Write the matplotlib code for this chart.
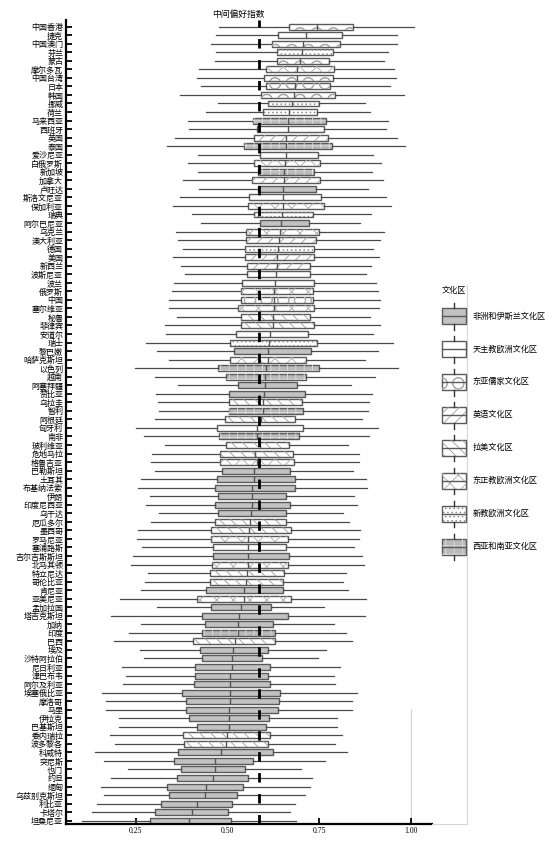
import matplotlib
matplotlib.use("Agg")
import matplotlib.pyplot as plt
import matplotlib.patches as mpatches
from matplotlib.legend_handler import HandlerBase
from matplotlib.lines import Line2D

plt.rcParams['font.family'] = ['Noto Sans CJK SC', 'DejaVu Sans']
plt.rcParams['hatch.linewidth'] = 0.6
plt.rcParams['lines.scale_dashes'] = False

# 国家/地区，按中位数从高到低
countries = [
    '中国香港', '捷克', '中国澳门', '芬兰', '蒙古', '摩尔多瓦', '中国台湾', '日本', '韩国', '挪威',
    '荷兰', '马来西亚', '西班牙', '英国', '泰国', '爱沙尼亚', '白俄罗斯', '新加坡', '加拿大', '卢旺达',
    '斯洛文尼亚', '保加利亚', '瑞典', '阿尔巴尼亚', '乌克兰', '澳大利亚', '德国', '美国', '新西兰', '波斯尼亚',
    '波兰', '俄罗斯', '中国', '塞尔维亚', '秘鲁', '菲律宾', '安道尔', '瑞士', '黎巴嫩', '哈萨克斯坦',
    '以色列', '越南', '阿塞拜疆', '赞比亚', '乌拉圭', '智利', '阿根廷', '匈牙利', '南非', '玻利维亚',
    '危地马拉', '格鲁吉亚', '巴勒斯坦', '土耳其', '布基纳法索', '伊朗', '印度尼西亚', '乌干达', '厄瓜多尔', '墨西哥',
    '罗马尼亚', '塞浦路斯', '吉尔吉斯斯坦', '北马其顿', '特立尼达', '哥伦比亚', '肯尼亚', '亚美尼亚', '孟加拉国', '塔吉克斯坦',
    '加纳', '印度', '巴西', '埃及', '沙特阿拉伯', '尼日利亚', '津巴布韦', '阿尔及利亚', '埃塞俄比亚', '摩洛哥',
    '马里', '伊拉克', '巴基斯坦', '委内瑞拉', '波多黎各', '科威特', '突尼斯', '也门', '约旦', '缅甸',
    '乌兹别克斯坦', '利比亚', '卡塔尔', '坦桑尼亚',
]

zones = [
    'EA', 'CE', 'EA', 'PE', 'EA', 'OE', 'EA', 'EA', 'EA', 'PE',
    'PE', 'WS', 'CE', 'EN', 'WS', 'CE', 'OE', 'WS', 'EN', 'AI',
    'CE', 'OE', 'PE', 'AI', 'OE', 'EN', 'PE', 'EN', 'EN', 'CE',
    'CE', 'OE', 'EA', 'OE', 'LA', 'LA', 'CE', 'PE', 'AI', 'OE',
    'WS', 'WS', 'AI', 'AI', 'LA', 'WS', 'LA', 'CE', 'WS', 'LA',
    'LA', 'OE', 'AI', 'AI', 'AI', 'AI', 'AI', 'AI', 'LA', 'LA',
    'OE', 'CE', 'AI', 'OE', 'LA', 'LA', 'AI', 'OE', 'AI', 'AI',
    'AI', 'WS', 'LA', 'AI', 'AI', 'AI', 'AI', 'AI', 'AI', 'AI',
    'AI', 'AI', 'AI', 'LA', 'LA', 'AI', 'AI', 'AI', 'AI', 'AI',
    'AI', 'AI', 'AI', 'AI',
]

whis_lo = [
    0.477, 0.469, 0.455, 0.469, 0.467, 0.423, 0.417, 0.428, 0.370, 0.474,
    0.441, 0.392, 0.394, 0.357, 0.335, 0.420, 0.393, 0.418, 0.379, 0.421,
    0.370, 0.351, 0.402, 0.428, 0.359, 0.365, 0.379, 0.351, 0.374, 0.385,
    0.354, 0.349, 0.339, 0.339, 0.362, 0.330, 0.332, 0.277, 0.307, 0.339,
    0.247, 0.302, 0.366, 0.305, 0.309, 0.312, 0.303, 0.250, 0.272, 0.330,
    0.293, 0.291, 0.303, 0.264, 0.256, 0.288, 0.276, 0.312, 0.291, 0.256,
    0.254, 0.266, 0.241, 0.236, 0.282, 0.274, 0.264, 0.206, 0.308, 0.182,
    0.264, 0.231, 0.190, 0.262, 0.273, 0.212, 0.223, 0.214, 0.157, 0.168,
    0.168, 0.204, 0.204, 0.179, 0.193, 0.138, 0.163, 0.229, 0.183, 0.154,
    0.163, 0.143, 0.131, 0.104,
]
q1 = [
    0.669, 0.639, 0.620, 0.634, 0.634, 0.604, 0.600, 0.605, 0.591, 0.611,
    0.597, 0.570, 0.579, 0.571, 0.546, 0.589, 0.572, 0.584, 0.566, 0.584,
    0.559, 0.557, 0.571, 0.588, 0.550, 0.550, 0.547, 0.547, 0.552, 0.554,
    0.540, 0.538, 0.536, 0.528, 0.536, 0.536, 0.522, 0.508, 0.518, 0.507,
    0.475, 0.495, 0.528, 0.503, 0.504, 0.503, 0.493, 0.472, 0.476, 0.495,
    0.478, 0.480, 0.486, 0.471, 0.467, 0.475, 0.467, 0.475, 0.467, 0.454,
    0.456, 0.459, 0.461, 0.458, 0.453, 0.453, 0.440, 0.416, 0.456, 0.431,
    0.438, 0.431, 0.405, 0.424, 0.429, 0.410, 0.411, 0.408, 0.375, 0.386,
    0.386, 0.396, 0.417, 0.379, 0.382, 0.365, 0.353, 0.372, 0.361, 0.336,
    0.341, 0.317, 0.303, 0.287,
]
med = [
    0.743, 0.714, 0.707, 0.703, 0.697, 0.690, 0.690, 0.684, 0.680, 0.677,
    0.667, 0.665, 0.665, 0.659, 0.659, 0.659, 0.658, 0.655, 0.653, 0.651,
    0.652, 0.650, 0.648, 0.647, 0.644, 0.641, 0.639, 0.635, 0.635, 0.633,
    0.630, 0.628, 0.628, 0.628, 0.625, 0.625, 0.615, 0.614, 0.610, 0.609,
    0.605, 0.602, 0.603, 0.600, 0.598, 0.598, 0.590, 0.579, 0.581, 0.588,
    0.576, 0.579, 0.572, 0.572, 0.568, 0.568, 0.566, 0.564, 0.560, 0.559,
    0.557, 0.555, 0.555, 0.555, 0.554, 0.549, 0.546, 0.544, 0.537, 0.530,
    0.528, 0.528, 0.520, 0.516, 0.511, 0.511, 0.507, 0.507, 0.507, 0.507,
    0.505, 0.503, 0.503, 0.498, 0.495, 0.481, 0.466, 0.466, 0.459, 0.440,
    0.438, 0.416, 0.402, 0.396,
]
q3 = [
    0.843, 0.813, 0.807, 0.789, 0.778, 0.791, 0.789, 0.780, 0.794, 0.750,
    0.745, 0.770, 0.762, 0.775, 0.786, 0.746, 0.753, 0.736, 0.753, 0.742,
    0.756, 0.764, 0.733, 0.723, 0.750, 0.742, 0.736, 0.736, 0.726, 0.724,
    0.737, 0.732, 0.734, 0.736, 0.725, 0.736, 0.720, 0.745, 0.729, 0.715,
    0.750, 0.715, 0.690, 0.710, 0.702, 0.707, 0.683, 0.707, 0.694, 0.669,
    0.678, 0.681, 0.671, 0.683, 0.685, 0.659, 0.671, 0.660, 0.660, 0.674,
    0.665, 0.659, 0.669, 0.665, 0.654, 0.650, 0.651, 0.674, 0.618, 0.665,
    0.623, 0.630, 0.630, 0.609, 0.595, 0.616, 0.609, 0.616, 0.643, 0.641,
    0.637, 0.614, 0.604, 0.616, 0.609, 0.623, 0.570, 0.548, 0.555, 0.542,
    0.527, 0.513, 0.500, 0.510,
]
whis_hi = [
    1.010, 0.962, 0.962, 0.939, 0.926, 0.955, 0.959, 0.944, 0.982, 0.875,
    0.889, 0.937, 0.932, 0.962, 0.983, 0.898, 0.918, 0.893, 0.923, 0.883,
    0.932, 0.946, 0.892, 0.862, 0.928, 0.916, 0.896, 0.914, 0.892, 0.878,
    0.905, 0.910, 0.916, 0.914, 0.889, 0.916, 0.896, 0.951, 0.910, 0.875,
    0.965, 0.903, 0.836, 0.893, 0.886, 0.884, 0.866, 0.910, 0.887, 0.828,
    0.859, 0.859, 0.842, 0.878, 0.880, 0.845, 0.853, 0.816, 0.831, 0.862,
    0.860, 0.845, 0.866, 0.873, 0.822, 0.816, 0.828, 0.877, 0.764, 0.875,
    0.790, 0.822, 0.841, 0.768, 0.747, 0.806, 0.790, 0.794, 0.853, 0.841,
    0.841, 0.800, 0.800, 0.811, 0.793, 0.825, 0.766, 0.700, 0.730, 0.725,
    0.712, 0.685, 0.670, 0.686,
]

ref_value = 0.585
x_ticks = [0.25, 0.50, 0.75, 1.00]

zone_keys = ['AI', 'CE', 'EA', 'EN', 'LA', 'OE', 'PE', 'WS']
zone_labels = ['非洲和伊斯兰文化区', '天主教欧洲文化区', '东亚儒家文化区', '英语文化区',
               '拉美文化区', '东正教欧洲文化区', '新教欧洲文化区', '西亚和南亚文化区']

# 样式
face = {'AI': '#c2c2c2', 'CE': 'white', 'EA': 'white', 'EN': 'white',
        'LA': 'white', 'OE': 'white', 'PE': 'white', 'WS': '#b9b9b9'}
hatch = {'AI': None, 'CE': None, 'EA': 'O', 'EN': '///', 'LA': '\\\\\\',
         'OE': 'xx', 'PE': '....', 'WS': '++'}
hatch_col = {'EA': '#a8a8a8', 'EN': '#9a9a9a', 'LA': '#9a9a9a', 'OE': '#a8a8a8',
             'PE': '#8c8c8c', 'WS': '#dcdcdc'}
edge_col = '#5a5a5a'


class BoxHandler(HandlerBase):
    # 图例里画一个竖着的小箱线图（单位：点）
    def create_artists(self, legend, orig_handle, xdescent, ydescent,
                       width, height, fontsize, trans):
        x0 = -xdescent
        cy = -ydescent + height / 2
        box_half = 5.8
        whis_half = 9.6
        cx = x0 + width / 2
        arts = []
        r = mpatches.Rectangle((x0, cy - box_half), width, 2 * box_half,
                               facecolor=orig_handle.get_facecolor(),
                               edgecolor=edge_col, lw=1.0, transform=trans)
        arts.append(r)
        if orig_handle.get_hatch():
            h = mpatches.Rectangle((x0, cy - box_half), width, 2 * box_half, facecolor='none',
                                   edgecolor=orig_handle.get_edgecolor(), lw=0,
                                   hatch=orig_handle.get_hatch(), transform=trans)
            arts.append(h)
        arts.append(Line2D([x0, x0 + width], [cy, cy], color=edge_col, lw=1.0, transform=trans))
        arts.append(Line2D([cx, cx], [cy + box_half, cy + whis_half], color='#333333', lw=1.0, transform=trans))
        arts.append(Line2D([cx, cx], [cy - whis_half, cy - box_half], color='#333333', lw=1.0, transform=trans))
        return arts


fig = plt.figure(figsize=(5.6, 8.44), dpi=100)
ax = fig.add_axes([66 / 560, 1 - 824 / 844, (432 - 66) / 560, (824 - 20) / 844])

stats = []
for i in range(len(countries)):
    stats.append({'whislo': whis_lo[i], 'q1': q1[i], 'med': med[i],
                  'q3': q3[i], 'whishi': whis_hi[i], 'fliers': []})

pos = list(range(len(countries)))
bp = ax.bxp(stats, positions=pos, orientation='horizontal', widths=0.7,
            patch_artist=True, showcaps=False, showfliers=False,
            boxprops=dict(edgecolor=edge_col, linewidth=1.0),
            medianprops=dict(color='#555555', linewidth=1.0),
            whiskerprops=dict(color='#4a4a4a', linewidth=0.9))

for box, z in zip(bp['boxes'], zones):
    box.set_facecolor(face[z])
    if hatch[z]:
        ov = mpatches.PathPatch(box.get_path(), transform=box.get_transform(),
                                facecolor='none', edgecolor=hatch_col[z], lw=0,
                                hatch=hatch[z], zorder=2.05)
        ax.add_patch(ov)

ax.axvline(ref_value, color='black', lw=2.0, linestyle=(0, (6.8, 8.3)), zorder=5)

ylim_bottom = 93.39
ax.set_ylim(ylim_bottom, -0.78)
ax.set_xlim(0.059, 1.058)
ax.vlines(1.0, 79.9, ylim_bottom, color='#cfcfcf', lw=0.8, zorder=1)

ax.set_yticks(pos)
ax.set_yticklabels(countries, fontsize=5.8)
ax.set_xticks(x_ticks)
ax.set_xticklabels(['%.2f' % t for t in x_ticks], fontsize=5.6, family='Liberation Serif')

for s in ['top', 'right']:
    ax.spines[s].set_visible(False)
for s in ['left', 'bottom']:
    ax.spines[s].set_linewidth(1.6)
    ax.spines[s].set_color('black')
ax.tick_params(axis='both', direction='in', length=4, width=1.3, pad=2)

fig.text(238 / 560, 1 - 14 / 844, '中间偏好指数', ha='center', va='center', fontsize=6.3)

handles = []
for k, lab in zip(zone_keys, zone_labels):
    handles.append(mpatches.Patch(facecolor=face[k], edgecolor=hatch_col.get(k, edge_col),
                                  hatch=hatch[k], label=lab))

leg = fig.legend(handles=handles, loc='upper left', bbox_to_anchor=(442 / 560, 1 - 286 / 844),
                 frameon=False, fontsize=5.9, title='文化区', title_fontsize=5.9,
                 handler_map={mpatches.Patch: BoxHandler()},
                 handlelength=2.93, handleheight=4.03, labelspacing=1.16,
                 handletextpad=0.84, borderpad=0, borderaxespad=0, alignment='left')

# 右侧浅灰色边线
fig.add_artist(Line2D([467 / 560, 467 / 560], [1 - 824 / 844, 1 - 285 / 844],
                      color='#d6d6d6', lw=0.8, transform=fig.transFigure))
fig.add_artist(Line2D([432 / 560, 467 / 560], [1 - 824 / 844, 1 - 824 / 844],
                      color='#d6d6d6', lw=0.8, transform=fig.transFigure))

fig.savefig('out.png', dpi=100)
